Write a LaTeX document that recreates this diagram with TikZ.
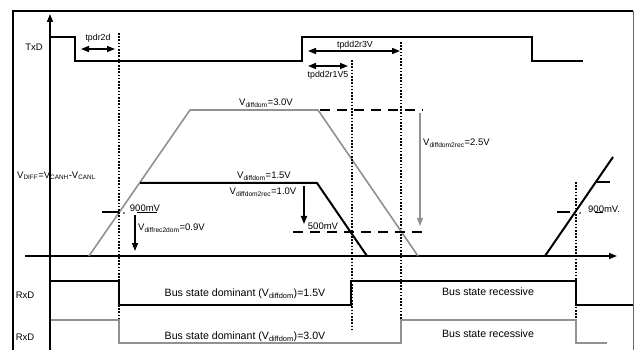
\documentclass[tikz,border=0pt]{standalone}
\usepackage{fontspec}
\setmainfont{Liberation Sans}
\usetikzlibrary{arrows.meta}
\definecolor{wgray}{RGB}{145,145,145}
\newcommand\tinysub[1]{\textsubscript{\fontsize{6.4}{7}\selectfont #1}}
\begin{document}
\begin{tikzpicture}[x=1pt,y=-1pt,
  lbl/.style={inner sep=0pt, font=\fontsize{9.5}{11}\selectfont},
  bus/.style={inner sep=0pt, font=\fontsize{10.6}{12}\selectfont},
  small/.style={inner sep=0pt, font=\fontsize{8.8}{10}\selectfont},
  wave/.style={line width=2pt},
  gwave/.style={line width=1.6pt, draw=wgray},
  dots/.style={line width=1.6pt, dash pattern=on 1.6pt off 1.6pt},
  dashline/.style={line width=1.8pt, dash pattern=on 10pt off 7pt},
  tipa/.style={-{Triangle[length=8pt,width=6pt]}},
  dtip/.style={{Triangle[length=8pt,width=6pt]}-{Triangle[length=8pt,width=6pt]}},
]
\useasboundingbox (0,0) rectangle (635,350);
% frame
\draw[line width=1.5pt] (13,352) -- (13,11) -- (633,11);
\draw[line width=0.8pt, draw=black!60] (633,11) -- (633,352);
% axes
\coordinate (yb) at (50,352); \coordinate (yt) at (50,14);
\draw[line width=1.5pt, tipa] (yb) -- (yt);
\coordinate (xl) at (25,256); \coordinate (xr) at (617,256);
\draw[line width=1.5pt, tipa] (xl) -- (xr);
% TxD
\draw[wave] (51,37) -| (75,61) -| (302,37) -| (532,61) -- (583,61);
% differential voltage
\draw[gwave] (89,256) -- (190,110) -- (318,110) -- (418,256);
\draw[wave] (140,183) -- (317,183) -- (367,256);
\draw[wave] (545,256) -- (613,157);
\draw[dashline] (320,110) -- (423,110);
\draw[dashline] (293,232) -- (423,232);
% dotted markers
\draw[dots] (119,33) -- (119,320);
\draw[dots] (352,60) -- (352,330);
\draw[dots] (401,42) -- (401,320);
\draw[dots] (576,182) -- (576,343);
% ticks
\draw[wave] (102,212) -- (119,212);
\draw[wave] (557,212) -- (570,212);
\draw[wave] (597,182) -- (610,182);
\draw[line width=1pt] (137,213) -- (157,213);
\draw[line width=1pt] (595,213) -- (603,213);
\fill (124,213) circle (0.9);
\fill (580,213) circle (0.9);
% timing arrows
\coordinate (a1) at (81,49); \coordinate (a2) at (115,49);
\draw[line width=1.5pt, dtip] (a1) -- (a2);
\coordinate (b1) at (308,51); \coordinate (b2) at (400,51);
\draw[line width=1.5pt, dtip] (b1) -- (b2);
\coordinate (c1) at (308,66); \coordinate (c2) at (348,66);
\draw[line width=1.5pt, dtip] (c1) -- (c2);
\coordinate (d1) at (304,186); \coordinate (d2) at (304,224);
\draw[line width=1.5pt, tipa] (d1) -- (d2);
\coordinate (e1) at (135,215); \coordinate (e2) at (135,251);
\draw[line width=1.5pt, tipa] (e1) -- (e2);
\coordinate (f1) at (420,113); \coordinate (f2) at (420,226);
\draw[line width=1.2pt, draw=wgray, -{Triangle[length=8pt,width=6pt,fill=wgray]}] (f1) -- (f2);
% RxD
\draw[wave] (51,281) -| (119,305) -| (351,281) -| (576,305) -- (633,305);
\draw[wave, draw=wgray] (51,320) -| (119,343) -| (401,320) -| (576,343) -- (607,343);
% labels
\node[lbl] (txd) at (34,47) {TxD};
\node[small] (tpdr2d) at (98,38) {tpdr2d};
\node[small] (tpdd2r3v) at (355,45) {tpdd2r3V};
\node[small] (tpdd2r1v5) at (328,75) {tpdd2r1V5};
\node[lbl] (v30) at (266,103) {V\textsubscript{diffdom}=3.0V};
\node[lbl, anchor=west] (vdiff) at (17,176) {V\tinysub{DIFF}=V\tinysub{CANH}-V\tinysub{CANL}};
\node[lbl] (v15) at (264,176) {V\textsubscript{diffdom}=1.5V};
\node[lbl] (v10) at (263,192) {V\textsubscript{diffdom2rec}=1.0V};
\node[lbl] (mv500) at (323,226) {500mV};
\node[lbl, anchor=west] (v25) at (423,143) {V\textsubscript{diffdom2rec}=2.5V};
\node[lbl] (mv900a) at (145,208) {900mV};
\node[lbl, anchor=west] (v09) at (138,228) {V\textsubscript{diffrec2dom}=0.9V};
\node[lbl, anchor=west] (mv900b) at (588,209) {900mV.};
\node[lbl] (rxd1) at (25,295) {RxD};
\node[lbl] (rxd2) at (25,337) {RxD};
\node[bus] (dom15) at (245,294) {Bus state dominant (V\textsubscript{diffdom})=1.5V};
\node[bus] (dom30) at (245,337) {Bus state dominant (V\textsubscript{diffdom})=3.0V};
\node[bus] (rec1) at (488,292) {Bus state recessive};
\node[bus] (rec2) at (488,334) {Bus state recessive};
\end{tikzpicture}
\end{document}
